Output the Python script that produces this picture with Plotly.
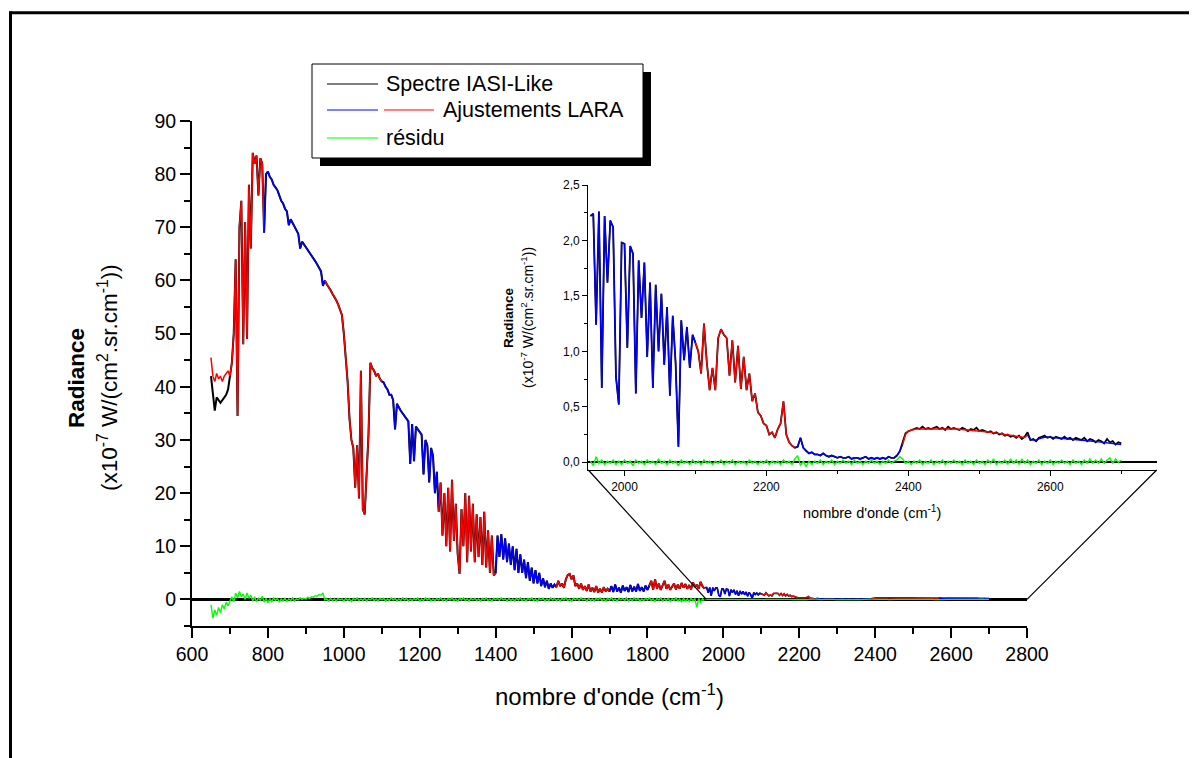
import numpy as np
import plotly.graph_objects as go

# ---------------- data ----------------
MAIN_START, MAIN_STEP = 650, 5          # wavenumber grid of the main spectrum (cm-1)
INSET_START, INSET_STEP = 1952, 4       # wavenumber grid of the zoomed part (cm-1)

# Observed "Spectre IASI-Like" radiance, 650..1950 cm-1, step 5
main_obs = [
    42, 39, 35.5, 38, 37.5, 37, 37.5, 38, 38.5, 39.5,
    42, 44.5, 50, 64, 34.5, 70, 75, 48, 71, 49,
    78, 66, 84, 82, 83.5, 76, 83, 82, 69, 80,
    80.5, 79.5, 79, 78, 77.5, 77, 76, 75, 74.5, 73.5,
    73, 70.4, 71.5, 70.8, 70, 69.3, 68.8, 66, 67.3, 66.8,
    66.3, 65.7, 65.2, 64.7, 64.2, 63.6, 63, 62.3, 61.7, 59,
    60, 59.3, 58.8, 58.2, 57.5, 57, 56.3, 55.5, 54.5, 53.5,
    50, 46, 41, 34, 30, 28.5, 21, 29, 19, 43,
    17, 16, 24, 31, 44.5, 43.5, 43, 42, 42.5, 41.5,
    41, 40.8, 40, 39.5, 38.5, 38.5, 37.5, 32, 36.8, 36,
    35.5, 35, 34.5, 34, 33.5, 25.5, 33, 26, 32.5, 32,
    31.5, 31, 23.5, 30, 29, 22, 28.5, 27, 20, 24,
    16.5, 22, 12, 20, 10, 21, 9, 22.5, 11, 18,
    8.5, 4.8, 17, 10, 20, 7, 19.5, 9, 18, 7,
    16, 8, 15.5, 6.5, 16.5, 6, 13, 5, 12, 4.5,
    5, 12, 8, 12.3, 7.5, 11.5, 7, 10.5, 6.5, 10,
    5.5, 9.5, 5, 8.5, 5, 7.5, 4, 7, 3.5, 6,
    3, 5.5, 3, 5, 2.5, 4, 2.3, 3.5, 2, 3,
    2.2, 2.8, 2.3, 3.5, 2.5, 3, 2.2, 3.8, 4.6, 4.8,
    3.8, 4.5, 2.5, 3, 2, 3, 1.8, 2.5, 1.6, 2.8,
    1.5, 2.2, 1.4, 2.5, 1.3, 2, 1.3, 2.3, 1.5, 2,
    1.5, 2.5, 1.4, 2.8, 1.5, 2.2, 1.3, 2.6, 1.6, 2.3,
    1.4, 2.7, 1.5, 2.4, 1.5, 2.9, 1.6, 2.3, 1.5, 2.6,
    1.8, 2.5, 3.5, 1.8, 3.8, 2, 3, 1.8, 2.7, 3.5,
    2, 2.8, 1.8, 2.5, 3, 1.9, 2.8, 2, 3.1, 2.2,
    2.9, 2, 2.7, 1.9, 3.2, 2.3, 2.8, 2, 3.3, 2.5,
    2,
]
# LARA fit where it departs from the observation (650..695 cm-1); elsewhere it follows main_obs
main_fit_start = [45.5, 42, 41, 42.5, 41.5, 42, 41, 42, 42.5, 43]

# Residual, 650..1950 cm-1
main_res = [
    -1, -3.5, -2, -3, -1.5, -2.5, -1, -1.8, -0.5, -1.2,
    -0.3, 0.5, -0.5, 1.2, 0.3, 1.5, 0.5, 1.0, 0.0, 1.2,
    0.2, 0.8, -0.3, 0.5, -0.5, 0.3, -0.2, 0.6, -0.5, 0.2,
    -0.6, 0.1, -0.4, 0.3, -0.2, 0.2, -0.5, 0.1, -0.3, 0.2,
    -0.4, 0.1, -0.2, 0.3, -0.3, 0.1, -0.1, 0.3, 0.0, 0.2,
    0.1, 0.4, 0.2, 0.5, 0.4, 0.7, 0.6, 0.9, 0.8, 1.2,
    -0.1, 0.1, -0.3, 0.2, -0.2, 0.1, -0.3, 0.2, -0.1, 0.1,
    -0.3, 0.2, -0.2, 0.1, -0.4, 0.2, -0.1, 0.3, -0.2, 0.1,
    -0.2, 0.2, -0.3, 0.1, -0.1, 0.3, -0.2, 0.1, -0.3, 0.2,
    -0.1, 0.2, -0.3, 0.1, -0.2, 0.3, -0.1, 0.2, -0.3, 0.1,
    -0.2, 0.3, -0.1, 0.2, -0.3, 0.1, -0.2, 0.2, -0.1, 0.3,
    -0.3, 0.1, -0.2, 0.3, -0.1, 0.2, -0.3, 0.1, -0.2, 0.2,
    -0.1, 0.3, -0.2, 0.1, -0.3, 0.2, -0.1, 0.3, -0.2, 0.1,
    -0.3, 0.2, -0.1, 0.3, -0.2, 0.1, -0.3, 0.2, -0.1, 0.2,
    -0.2, 0.1, -0.3, 0.2, -0.1, 0.3, -0.2, 0.1, -0.3, 0.2,
    -0.1, 0.2, -0.2, 0.3, -0.1, 0.1, -0.3, 0.2, -0.2, 0.1,
    -0.3, 0.2, -0.1, 0.3, -0.2, 0.1, -0.3, 0.2, -0.1, 0.3,
    -0.2, 0.1, -0.3, 0.2, -0.1, 0.2, -0.3, 0.1, -0.2, 0.3,
    -0.1, 0.2, -0.2, 0.1, -0.3, 0.2, -0.1, 0.3, -0.2, 0.1,
    -0.3, 0.2, -0.1, 0.2, -0.2, 0.3, -0.1, 0.1, -0.3, 0.2,
    -0.2, 0.1, -0.3, 0.2, -0.1, 0.3, -0.2, 0.1, -0.3, 0.2,
    -0.1, 0.3, -0.2, 0.1, -0.3, 0.2, -0.1, 0.2, -0.2, 0.3,
    -0.3, 0.1, -0.2, 0.3, -0.1, 0.2, -0.3, 0.1, -0.2, 0.2,
    -0.1, 0.3, -0.2, 0.1, -0.4, 0.2, -0.1, 0.3, -0.3, 0.1,
    -0.2, 0.2, -0.4, 0.1, -0.2, 0.3, -0.3, 0.1, -0.5, 0.2,
    -0.3, 0.1, -0.4, 0.2, -0.2, 0.1, -1.5, 0.2, -0.6, 0.1,
    -0.2,
]

# Observed radiance 1952..2700 cm-1, step 4
inset_obs = [
    2.22, 2.24, 1.24, 2.26, 0.67, 2.22, 1.62, 2.18, 2.12, 0.77,
    0.52, 1.98, 1.97, 1.03, 1.95, 1.88, 0.62, 1.82, 1.30, 1.80,
    0.95, 1.62, 0.67, 1.60, 1.00, 1.52, 0.88, 1.40, 0.60, 1.32,
    0.90, 0.14, 1.28, 0.92, 1.22, 0.85, 1.15, 1.08, 1.00, 0.80,
    1.25, 0.90, 0.65, 0.85, 0.65, 1.12, 1.20, 1.15, 1.12, 0.78,
    1.10, 0.72, 1.05, 0.66, 0.95, 0.65, 0.80, 0.55, 0.62, 0.45,
    0.42, 0.35, 0.33, 0.25, 0.27, 0.22, 0.30, 0.35, 0.55, 0.25,
    0.18, 0.15, 0.13, 0.14, 0.22, 0.13, 0.10, 0.08, 0.09, 0.07,
    0.07, 0.06, 0.08, 0.06, 0.05, 0.06, 0.05, 0.04, 0.05, 0.04,
    0.04, 0.05, 0.03, 0.04, 0.04, 0.03, 0.04, 0.05, 0.03, 0.04,
    0.03, 0.04, 0.03, 0.04, 0.03, 0.05, 0.04, 0.04, 0.06, 0.10,
    0.18, 0.26, 0.28, 0.29, 0.30, 0.31, 0.30, 0.32, 0.30, 0.31,
    0.30, 0.31, 0.32, 0.30, 0.31, 0.29, 0.32, 0.30, 0.31, 0.30,
    0.29, 0.31, 0.30, 0.28, 0.30, 0.29, 0.31, 0.28, 0.29, 0.28,
    0.27, 0.28, 0.26, 0.27, 0.25, 0.26, 0.24, 0.25, 0.23, 0.24,
    0.22, 0.24, 0.21, 0.23, 0.27, 0.20, 0.21, 0.19, 0.22, 0.23,
    0.24, 0.22, 0.23, 0.21, 0.23, 0.22, 0.21, 0.23, 0.21, 0.22,
    0.20, 0.22, 0.21, 0.20, 0.22, 0.19, 0.21, 0.20, 0.18, 0.20,
    0.19, 0.17, 0.21, 0.18, 0.19, 0.16, 0.18, 0.17,
]
# LARA fit 2392..2700 cm-1 (smoother than the observation); below 2392 it follows inset_obs
inset_fit_tail = [
    0.16, 0.25, 0.28, 0.29, 0.295, 0.30, 0.30, 0.302, 0.303, 0.304,
    0.305, 0.305, 0.306, 0.306, 0.305, 0.305, 0.304, 0.303, 0.302, 0.30,
    0.298, 0.296, 0.294, 0.292, 0.29, 0.288, 0.285, 0.283, 0.28, 0.277,
    0.274, 0.27, 0.267, 0.263, 0.258, 0.253, 0.248, 0.243, 0.238, 0.233,
    0.23, 0.228, 0.225, 0.223, 0.245, 0.205, 0.20, 0.198, 0.21, 0.22,
    0.225, 0.228, 0.226, 0.224, 0.222, 0.22, 0.218, 0.216, 0.214, 0.212,
    0.21, 0.207, 0.204, 0.201, 0.198, 0.195, 0.192, 0.19, 0.187, 0.184,
    0.181, 0.178, 0.175, 0.172, 0.169, 0.166, 0.163, 0.16,
]
# Residual 1952..2700 cm-1
inset_res = [
    0.01, -0.03, 0.05, -0.01, 0.02, -0.02, 0.01, -0.01, 0.02, -0.02,
    0.01, -0.02, 0.02, -0.01, 0.01, -0.03, 0.02, -0.01, 0.01, -0.02,
    0.02, -0.01, 0.01, -0.02, 0.03, -0.01, 0.01, -0.02, 0.02, -0.01,
    0.01, -0.03, 0.02, -0.01, 0.01, -0.02, 0.02, -0.01, 0.01, -0.02,
    0.02, -0.01, 0.01, -0.02, 0.01, -0.01, 0.02, -0.02, 0.01, -0.01,
    0.02, -0.02, 0.01, -0.01, 0.01, -0.02, 0.02, -0.01, 0.01, -0.02,
    0.01, -0.01, 0.02, -0.02, 0.01, -0.01, 0.01, -0.02, 0.02, -0.01,
    0.01, -0.02, 0.03, 0.06, -0.03, 0.01, -0.04, 0.01, -0.02, 0.01,
    -0.01, 0.02, -0.02, 0.01, -0.01, 0.02, -0.02, 0.01, -0.01, 0.02,
    -0.01, 0.01, -0.02, 0.02, -0.01, 0.01, -0.02, 0.01, -0.01, 0.02,
    -0.01, 0.01, -0.02, 0.01, -0.01, 0.02, -0.01, 0.01, 0.02, 0.05,
    0.03, -0.01, 0.01, -0.02, 0.01, -0.01, 0.02, -0.02, 0.01, -0.01,
    0.02, -0.02, 0.01, -0.01, 0.02, -0.02, 0.01, -0.01, 0.02, -0.01,
    0.01, -0.02, 0.02, -0.01, 0.01, -0.02, 0.02, -0.01, 0.01, -0.02,
    0.02, -0.01, 0.03, -0.02, 0.01, -0.01, 0.02, -0.02, 0.03, -0.01,
    0.02, -0.02, 0.03, -0.01, 0.02, -0.02, 0.01, -0.01, 0.02, -0.02,
    0.01, -0.01, 0.02, -0.02, 0.01, -0.01, 0.02, -0.01, 0.01, -0.02,
    0.02, -0.01, 0.01, -0.02, 0.02, -0.01, 0.03, -0.01, 0.02, -0.01,
    0.03, -0.01, 0.02, 0.04, -0.01, 0.03, 0.00, 0.02,
]

# fit windows (cm-1) and their colours
main_fit_edges = [650, 790, 950, 1100, 1250, 1400, 1560, 1700, 1805, 1950]
main_fit_colors = ["#FF0000", "#0000FF", "#FF0000", "#0000FF", "#FF0000",
                   "#0000FF", "#FF0000", "#0000FF", "#FF0000"]
inset_fit_edges = [1952, 2100, 2240, 2392, 2568, 2700]
inset_fit_colors = ["#0000FF", "#FF0000", "#0000FF", "#FF0000", "#0000FF"]

legend_labels = ["Spectre IASI-Like", "Ajustements LARA", "résidu"]

# ---------------- assembly ----------------
main_x = MAIN_START + MAIN_STEP * np.arange(len(main_obs))
inset_x = INSET_START + INSET_STEP * np.arange(len(inset_obs))
main_fit = main_fit_start + main_obs[len(main_fit_start):]
tail_i = (2392 - INSET_START) // INSET_STEP
inset_fit = inset_obs[:tail_i] + inset_fit_tail

W, H = 1197, 758
BODY = 8                      # page body margin added by the browser
# plot area of the main chart, in screen pixels
SL, ST, SR, SB = 192, 121, 1027, 626
ML, MT = SL - BODY, ST - BODY
PW = 965
PH = SB - ST
MR, MB = W - ML - PW, H - MT - PH


def fx(px):
    return (px - SL) / PW


def fy(py):
    return (SB - py) / PH


MAIN_XR, MAIN_YR = [600, 2800], [-5, 90]
MAIN_DX = [0, fx(SR)]
INSET_XR, INSET_YR = [1949, 2750], [-0.07, 2.5]
INSET_DX = [fx(588.3), fx(1156.7)]
INSET_DY = [fy(470), fy(185)]


def main_paper(x, y):
    px = MAIN_DX[0] + (x - MAIN_XR[0]) / (MAIN_XR[1] - MAIN_XR[0]) * (MAIN_DX[1] - MAIN_DX[0])
    py = (y - MAIN_YR[0]) / (MAIN_YR[1] - MAIN_YR[0])
    return px, py


fig = go.Figure()


def add_line(x, y, color, width, xa, ya):
    fig.add_trace(go.Scatter(x=list(x), y=list(y), mode="lines",
                             line=dict(color=color, width=width),
                             xaxis=xa, yaxis=ya, showlegend=False, hoverinfo="skip"))


def add_segments(x, y, start, step, edges, colors, xa, ya, width):
    for i in range(len(edges) - 1):
        a = int(round((edges[i] - start) / step))
        b = int(round((edges[i + 1] - start) / step)) + 1
        add_line(x[a:b], y[a:b], colors[i], width, xa, ya)


# main chart
add_line(main_x, main_obs, "black", 2.0, "x", "y")
add_line(inset_x, inset_obs, "black", 1.6, "x", "y")
add_segments(main_x, main_fit, MAIN_START, MAIN_STEP, main_fit_edges, main_fit_colors, "x", "y", 1.5)
add_segments(inset_x, inset_fit, INSET_START, INSET_STEP, inset_fit_edges, inset_fit_colors, "x", "y", 1.3)
add_line(main_x, main_res, "#00FF00", 1.4, "x", "y")
add_line(inset_x, inset_res, "#00FF00", 1.2, "x", "y")
# inset chart
add_line(inset_x, inset_obs, "black", 1.8, "x2", "y2")
add_segments(inset_x, inset_fit, INSET_START, INSET_STEP, inset_fit_edges, inset_fit_colors, "x2", "y2", 1.4)
add_line(inset_x, inset_res, "#00FF00", 1.4, "x2", "y2")

FONT = "Liberation Sans, Arial, sans-serif"


def base_axis(**kw):
    d = dict(showgrid=False, showline=True, linecolor="black", tickcolor="black",
             zeroline=False, color="black")
    d.update(kw)
    return d


layout = dict(
    width=W, height=H,
    margin=dict(l=ML, r=MR, t=MT, b=MB, pad=0),
    paper_bgcolor="white", plot_bgcolor="white",
    font=dict(family=FONT, color="black"),
    showlegend=False,
    separators=",.",
    xaxis=base_axis(domain=MAIN_DX, range=MAIN_XR, anchor="y", tick0=600, dtick=200,
                    ticks="outside", ticklen=10, tickwidth=1.8, linewidth=2,
                    tickfont=dict(size=19.5),
                    minor=dict(dtick=100, ticks="outside", ticklen=6, tickwidth=1.8,
                               tickcolor="black", showgrid=False)),
    yaxis=base_axis(domain=[0, 1], range=MAIN_YR, anchor="x", tick0=0, dtick=10,
                    ticks="outside", ticklen=10, tickwidth=1.8, linewidth=2,
                    tickfont=dict(size=19.5),
                    zeroline=True, zerolinecolor="black", zerolinewidth=2.5,
                    minor=dict(dtick=5, ticks="outside", ticklen=6, tickwidth=1.8,
                               tickcolor="black", showgrid=False)),
    xaxis3=base_axis(overlaying="x", side="top", anchor="y", range=MAIN_XR, tick0=600,
                     dtick=200, ticks="inside", ticklen=10, tickwidth=1.8, linewidth=2,
                     showticklabels=False,
                     minor=dict(dtick=100, ticks="inside", ticklen=6, tickwidth=1.8,
                                tickcolor="black", showgrid=False)),
    yaxis3=base_axis(overlaying="y", side="right", anchor="x", range=MAIN_YR, tick0=0,
                     dtick=10, ticks="inside", ticklen=10, tickwidth=1.8, linewidth=2,
                     showticklabels=False,
                     minor=dict(dtick=5, ticks="inside", ticklen=6, tickwidth=1.8,
                                tickcolor="black", showgrid=False)),
    xaxis2=base_axis(domain=INSET_DX, range=INSET_XR, anchor="y2", tick0=2000, dtick=200,
                     ticks="outside", ticklen=5, tickwidth=1.2, linewidth=1.4,
                     tickfont=dict(size=12),
                     minor=dict(dtick=100, ticks="outside", ticklen=3, tickwidth=1.2,
                                tickcolor="black", showgrid=False)),
    yaxis2=base_axis(domain=INSET_DY, range=INSET_YR, anchor="x2", tick0=0, dtick=0.5,
                     tickformat=".1f", ticks="outside", ticklen=5, tickwidth=1.2,
                     linewidth=1.4, tickfont=dict(size=12),
                     zeroline=True, zerolinecolor="black", zerolinewidth=2.2,
                     minor=dict(dtick=0.25, ticks="outside", ticklen=3, tickwidth=1.2,
                                tickcolor="black", showgrid=False)),
    xaxis4=base_axis(overlaying="x2", side="top", anchor="y2", range=INSET_XR, tick0=2000,
                     dtick=100, ticks="inside", ticklen=4, tickwidth=1.2, linewidth=1.4,
                     showticklabels=False),
    yaxis4=base_axis(overlaying="y2", side="right", anchor="x2", range=INSET_YR, tick0=0,
                     dtick=0.25, ticks="inside", ticklen=4, tickwidth=1.2, linewidth=1.4,
                     showticklabels=False),
)
fig.update_layout(**layout)

shapes = []
# page frame (left and top)
shapes.append(dict(type="line", xref="paper", yref="paper", x0=fx(10.5), x1=fx(10.5),
                   y0=fy(11.5), y1=fy(790), line=dict(color="black", width=3)))
shapes.append(dict(type="line", xref="paper", yref="paper", x0=fx(9), x1=fx(1230),
                   y0=fy(12.7), y1=fy(12.7), line=dict(color="black", width=3)))
# zoom connector lines
p0 = main_paper(1955, 0)
p1 = main_paper(MAIN_XR[1], 0)
shapes.append(dict(type="line", xref="paper", yref="paper", x0=INSET_DX[0], y0=INSET_DY[0],
                   x1=p0[0], y1=p0[1], line=dict(color="black", width=1.2)))
shapes.append(dict(type="line", xref="paper", yref="paper", x0=INSET_DX[1], y0=INSET_DY[0],
                   x1=p1[0], y1=p1[1], line=dict(color="black", width=1.2)))
# legend box with shadow
shapes.append(dict(type="rect", xref="paper", yref="paper", x0=fx(320), x1=fx(651),
                   y0=fy(166), y1=fy(72), fillcolor="black", line=dict(width=0)))
shapes.append(dict(type="rect", xref="paper", yref="paper", x0=fx(312), x1=fx(643),
                   y0=fy(158), y1=fy(64), fillcolor="white",
                   line=dict(color="black", width=1)))
leg_y = [84, 110, 138]
leg_samples = [[("black", 327, 378)],
               [("#0000FF", 327, 378), ("#FF0000", 384, 434)],
               [("#00FF00", 327, 378)]]
leg_text_x = [384, 441, 384]
for yy, samples in zip(leg_y, leg_samples):
    for col, a, b in samples:
        shapes.append(dict(type="line", xref="paper", yref="paper", x0=fx(a), x1=fx(b),
                           y0=fy(yy), y1=fy(yy), line=dict(color=col, width=1.2)))
fig.update_layout(shapes=shapes)

ann = []
for lbl, tx, yy in zip(legend_labels, leg_text_x, leg_y):
    ann.append(dict(text=lbl, xref="paper", yref="paper", x=fx(tx), y=fy(yy),
                    xanchor="left", yanchor="middle", showarrow=False,
                    font=dict(size=21.5, color="black")))
# main axis titles
ann.append(dict(text="nombre d'onde (cm<sup>-1</sup>)", xref="paper", yref="paper",
                x=fx(609.5), y=fy(695), xanchor="center", yanchor="middle",
                showarrow=False, font=dict(size=24)))
ann.append(dict(text="<b>Radiance</b>", xref="paper", yref="paper", x=fx(76), y=fy(378),
                xanchor="center", yanchor="middle", textangle=-90, showarrow=False,
                font=dict(size=22.5)))
ann.append(dict(text="(x10<sup>-7</sup> W/(cm<sup>2</sup>.sr.cm<sup>-1</sup>))",
                xref="paper", yref="paper", x=fx(108), y=fy(378), xanchor="center",
                yanchor="middle", textangle=-90, showarrow=False, font=dict(size=22.5)))
# inset axis titles
ann.append(dict(text="nombre d'onde (cm<sup>-1</sup>)", xref="paper", yref="paper",
                x=fx(872), y=fy(512), xanchor="center", yanchor="middle",
                showarrow=False, font=dict(size=14.5)))
ann.append(dict(text="<b>Radiance</b>", xref="paper", yref="paper", x=fx(508), y=fy(318),
                xanchor="center", yanchor="middle", textangle=-90, showarrow=False,
                font=dict(size=13.5)))
ann.append(dict(text="(x10<sup>-7</sup> W/(cm<sup>2</sup>.sr.cm<sup>-1</sup>))",
                xref="paper", yref="paper", x=fx(527), y=fy(318), xanchor="center",
                yanchor="middle", textangle=-90, showarrow=False, font=dict(size=14)))
fig.update_layout(annotations=ann)

fig.write_html("out.html")
